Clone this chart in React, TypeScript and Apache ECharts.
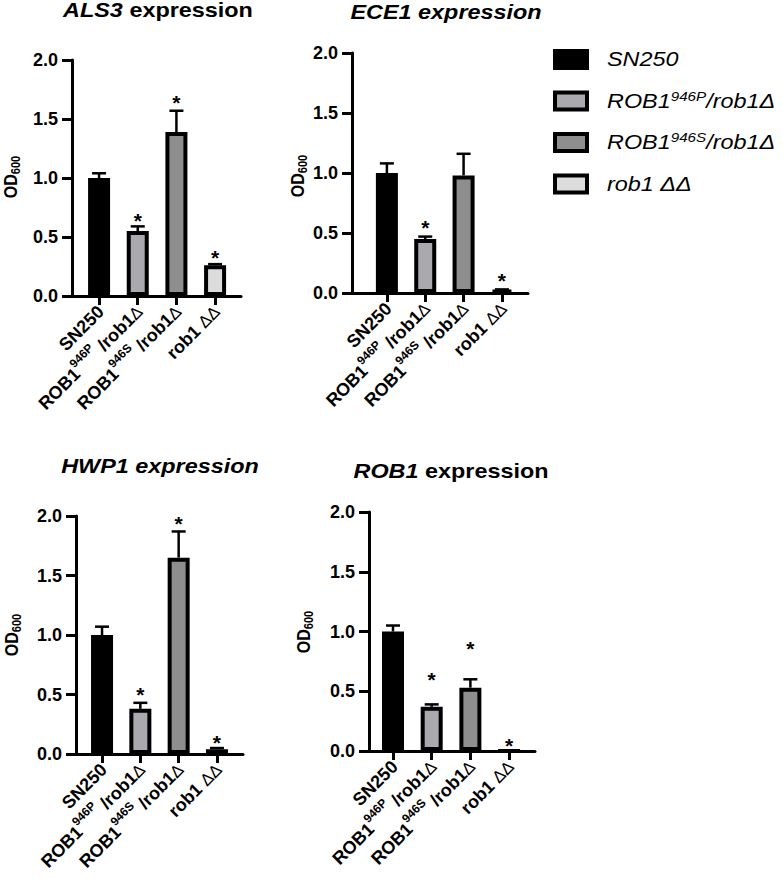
import React, { useEffect, useRef } from 'react';
import * as echarts from 'echarts';

// ---------- data ----------
const strains = ['SN250', 'ROB1^946P /rob1Δ', 'ROB1^946S /rob1Δ', 'rob1 ΔΔ'];
const legendNames = ['SN250', 'ROB1^946P/rob1Δ', 'ROB1^946S/rob1Δ', 'rob1 ΔΔ'];
const barColors = ['#000000', '#a9a9ae', '#8e8e8e', '#dcdcdc'];
const genes = ['ALS3', 'ECE1', 'HWP1', 'ROB1'];
const titleWordItalic = [false, true, true, false];
const yName = 'OD';
const yNameSub = '600';
const yMin = 0;
const yMax = 2;
const yStep = 0.5;

const als3Means = [1.0, 0.55, 1.39, 0.26];
const als3Errors = [0.04, 0.04, 0.18, 0.01];
const als3Stars = [0, 0.67, 1.67, 0.36];

const ece1Means = [1.0, 0.45, 0.98, 0.025];
const ece1Errors = [0.08, 0.02, 0.18, 0.005];
const ece1Stars = [0, 0.58, 0, 0.14];

const hwp1Means = [1.0, 0.38, 1.65, 0.04];
const hwp1Errors = [0.07, 0.05, 0.22, 0.01];
const hwp1Stars = [0, 0.53, 1.97, 0.13];

const rob1Means = [1.0, 0.37, 0.53, 0.0];
const rob1Errors = [0.05, 0.02, 0.07, 0.0];
const rob1Stars = [0, 0.63, 0.89, 0.08];

const panelData = [
  { means: als3Means, errors: als3Errors, stars: als3Stars },
  { means: ece1Means, errors: ece1Errors, stars: ece1Stars },
  { means: hwp1Means, errors: hwp1Errors, stars: hwp1Stars },
  { means: rob1Means, errors: rob1Errors, stars: rob1Stars },
];

// ---------- layout ----------
const panels = [
  { left: 72, top: 60, width: 169, height: 236, xMin: -0.7, xMax: 3.67, titleX: 158, titleY: 10, odX: 11, odY: 177 },
  { left: 352, top: 53, width: 176, height: 240, xMin: -0.91, xMax: 3.68, titleX: 446, titleY: 12.5, odX: 298, odY: 176 },
  { left: 76, top: 516, width: 167, height: 238, xMin: -0.68, xMax: 3.68, titleX: 160, titleY: 466, odX: 12, odY: 635 },
  { left: 369, top: 512, width: 166, height: 239, xMin: -0.62, xMax: 3.67, titleX: 451, titleY: 471, odX: 304, odY: 632 },
];

const FONT = '"Liberation Sans", Arial, Helvetica, sans-serif';
const STRETCH = 1.17;

function toRich(name: string): string {
  const tokens: [string, string][] = [];
  let mode = 't';
  let buf = '';
  const push = () => {
    if (buf) tokens.push([mode, buf]);
    buf = '';
  };
  for (const ch of name) {
    if (ch === '^') {
      push();
      mode = 's';
      continue;
    }
    if (mode === 's' && (ch === ' ' || ch === '/')) {
      push();
      mode = 't';
    }
    if (ch === 'Δ') {
      if (mode !== 'd') {
        push();
        mode = 'd';
      }
      buf += ch;
      continue;
    }
    if (mode === 'd') {
      push();
      mode = 't';
    }
    buf += ch;
  }
  push();
  return tokens.map(([m, s]) => `{${m}|${s}}`).join('');
}

const xRich = {
  t: { fontFamily: FONT, fontWeight: 'bold', fontSize: 18, color: '#000', verticalAlign: 'bottom', lineHeight: 23 },
  s: { fontFamily: FONT, fontWeight: 'bold', fontSize: 12, color: '#000', verticalAlign: 'top', lineHeight: 14 },
  d: { fontFamily: FONT, fontWeight: 'normal', fontSize: 17, color: '#000', verticalAlign: 'bottom', lineHeight: 23 },
};

const legendRich = {
  t: { fontFamily: FONT, fontStyle: 'italic', fontSize: 20, fill: '#000' },
  s: { fontFamily: FONT, fontStyle: 'italic', fontSize: 13, fill: '#000', padding: [0, 0, 10, 0] },
  d: { fontFamily: FONT, fontStyle: 'italic', fontSize: 20, fill: '#000' },
};

function renderErrorBar(params: any, api: any) {
  const x = api.value(0);
  const m = api.value(1);
  const t = api.value(2);
  const s = api.value(3);
  const base = api.coord([x, m]);
  const top = api.coord([x, t]);
  const children: any[] = [];
  if (t > m) {
    children.push({
      type: 'line',
      shape: { x1: base[0], y1: base[1], x2: top[0], y2: top[1] },
      style: { stroke: '#000', lineWidth: 2.5 },
    });
    children.push({
      type: 'line',
      shape: { x1: top[0] - 7, y1: top[1], x2: top[0] + 7, y2: top[1] },
      style: { stroke: '#000', lineWidth: 2.5 },
    });
  }
  if (s > 0) {
    const sp = api.coord([x, s]);
    children.push({
      type: 'text',
      x: sp[0],
      y: sp[1] + 4,
      style: {
        text: '*',
        fill: '#000',
        fontFamily: FONT,
        fontWeight: 'bold',
        fontSize: 21,
        align: 'center',
        verticalAlign: 'middle',
      },
    });
  }
  return { type: 'group', children };
}

export default function App() {
  const ref = useRef<HTMLDivElement>(null);

  useEffect(() => {
    document.body.style.margin = '0';
    if (!ref.current) return;
    const chart = echarts.init(ref.current, undefined, { renderer: 'svg' });
    const catIdx = strains.map((_, i) => i);

    const grid = panels.map((p) => ({
      left: p.left,
      top: p.top,
      width: p.width,
      height: p.height,
      containLabel: false,
      outerBoundsMode: 'none',
    }));

    const xAxis = panels.map((p, i) => ({
      gridIndex: i,
      type: 'value',
      min: p.xMin,
      max: p.xMax,
      axisLine: { show: true, onZero: false, lineStyle: { color: '#000', width: 3 } },
      axisTick: { show: true, customValues: catIdx, length: 9, lineStyle: { color: '#000', width: 3 } },
      axisLabel: {
        customValues: catIdx,
        rotate: 45,
        margin: 11,
        formatter: (v: number) => toRich(strains[Math.round(v)]),
        rich: xRich,
      },
      splitLine: { show: false },
    }));

    const yAxis = panels.map((p, i) => ({
      gridIndex: i,
      type: 'value',
      min: yMin,
      max: yMax,
      interval: yStep,
      axisLine: { show: true, onZero: false, lineStyle: { color: '#000', width: 3 } },
      axisTick: { show: true, length: 10, lineStyle: { color: '#000', width: 3 } },
      axisLabel: {
        margin: 14,
        formatter: (v: number) => v.toFixed(1),
        color: '#000',
        fontFamily: FONT,
        fontWeight: 'bold',
        fontSize: 18,
      },
      splitLine: { show: false },
    }));

    const series: any[] = [];
    panelData.forEach((d, i) => {
      series.push({
        type: 'bar',
        xAxisIndex: i,
        yAxisIndex: i,
        barWidth: 22,
        z: 2,
        data: d.means.map((v, j) => ({
          value: [j, v],
          itemStyle: { color: barColors[j], borderColor: '#000', borderWidth: 4 },
        })),
      });
      series.push({
        type: 'custom',
        xAxisIndex: i,
        yAxisIndex: i,
        z: 3,
        renderItem: renderErrorBar,
        data: d.means.map((v, j) => [j, v, v + d.errors[j], d.stars[j]]),
      });
    });

    const graphics: any[] = [];
    panels.forEach((p, i) => {
      const wordStyle = titleWordItalic[i] ? 'italic' : 'normal';
      graphics.push({
        type: 'text',
        x: p.titleX,
        y: p.titleY,
        scaleX: STRETCH,
        style: {
          text: `{g|${genes[i]}}{w| expression}`,
          rich: {
            g: { fontFamily: FONT, fontStyle: 'italic', fontWeight: 'bold', fontSize: 20, fill: '#000' },
            w: { fontFamily: FONT, fontStyle: wordStyle, fontWeight: 'bold', fontSize: 20, fill: '#000' },
          },
          align: 'center',
          verticalAlign: 'middle',
        },
      });
      graphics.push({
        type: 'text',
        x: p.odX,
        y: p.odY,
        rotation: Math.PI / 2,
        scaleY: STRETCH,
        style: {
          text: `{b|${yName}}{s|${yNameSub}}`,
          rich: {
            b: { fontFamily: FONT, fontWeight: 'bold', fontSize: 16, fill: '#000' },
            s: { fontFamily: FONT, fontWeight: 'bold', fontSize: 11, fill: '#000', padding: [8, 0, 0, 0] },
          },
          align: 'center',
          verticalAlign: 'middle',
        },
      });
    });

    legendNames.forEach((n, j) => {
      const cy = 59.5 + 41.5 * j;
      graphics.push({
        type: 'rect',
        shape: { x: 555, y: cy - 8.5, width: 32, height: 17 },
        style: { fill: barColors[j], stroke: '#000', lineWidth: 4 },
      });
      graphics.push({
        type: 'text',
        x: 607,
        y: cy,
        scaleX: STRETCH,
        style: {
          text: toRich(n),
          rich: legendRich,
          align: 'left',
          verticalAlign: 'middle',
        },
      });
    });

    chart.setOption({
      animation: false,
      backgroundColor: '#ffffff',
      grid,
      xAxis,
      yAxis,
      series,
      graphic: { elements: graphics },
    });

    return () => {
      chart.dispose();
    };
  }, []);

  return <div ref={ref} style={{ width: 783, height: 879 }} />;
}
